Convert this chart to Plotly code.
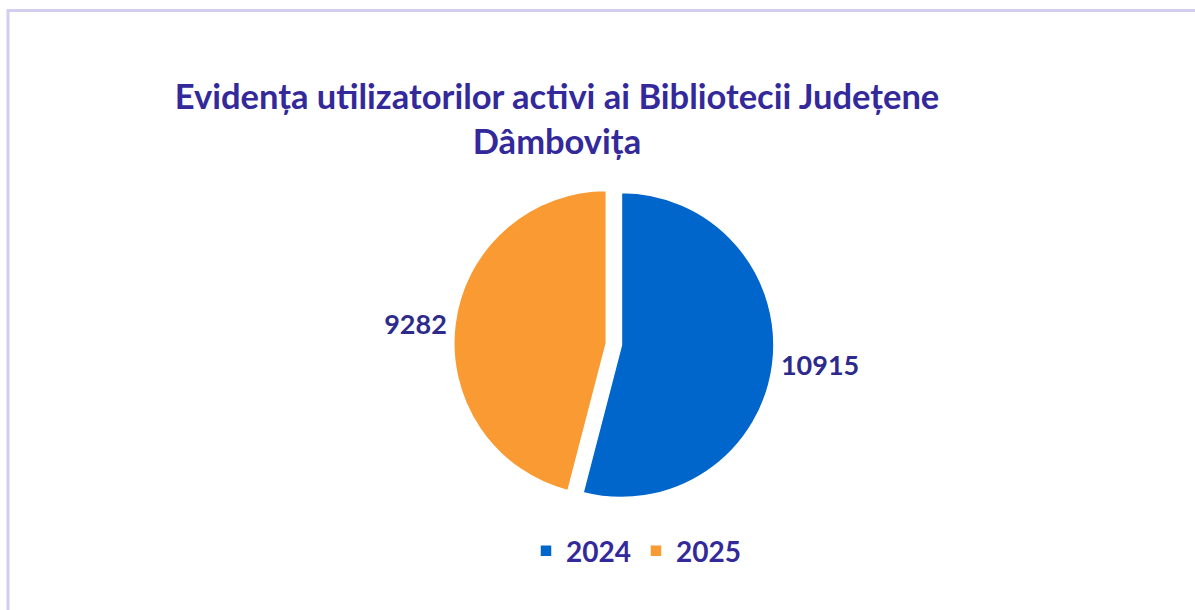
import plotly.graph_objects as go

years = ["2024", "2025"]
users = [10915, 9282]
colors = ["#0066CC", "#F99A33"]
title_text = "Evidența utilizatorilor activi ai Bibliotecii Județene<br>Dâmbovița"

W, H = 1195, 610
FONT = "Lato, 'Noto Sans', sans-serif"
INK = "#33299A"

fig = go.Figure()
fig.add_trace(go.Pie(
    labels=years,
    values=users,
    marker=dict(colors=colors, line=dict(color="white", width=1.5)),
    sort=False,
    direction="clockwise",
    rotation=0,
    pull=[0.02, 0.08],
    textinfo="value",
    texttemplate="%{value:.0f}",
    textposition="outside",
    textfont=dict(family=FONT, size=27, color="#2E2A8C", weight="bold"),
    hoverinfo="label+value+percent",
    domain=dict(x=[0.28, 0.755], y=[0.165, 0.705]),
    showlegend=True,
))

fig.update_layout(
    width=W, height=H,
    margin=dict(l=0, r=0, t=0, b=0),
    paper_bgcolor="white",
    plot_bgcolor="white",
    title=dict(
        text=title_text,
        x=557 / W, xanchor="center",
        y=1 - 109 / H, yanchor="top",
        font=dict(family=FONT, size=34.5, color=INK, weight="bold"),
    ),
    legend=dict(
        orientation="h",
        x=636 / W, xanchor="center",
        y=1 - 551 / H, yanchor="middle",
        font=dict(family=FONT, size=28, color=INK, weight="bold"),
        itemwidth=30,
        traceorder="normal",
    ),
    shapes=[dict(
        type="rect", xref="paper", yref="paper",
        x0=8 / W, x1=1.02, y0=-0.05, y1=1 - 10.5 / H,
        line=dict(color="#D2CEF2", width=3),
        fillcolor="rgba(0,0,0,0)",
        layer="below",
    )],
)

fig.write_html("out.html")
